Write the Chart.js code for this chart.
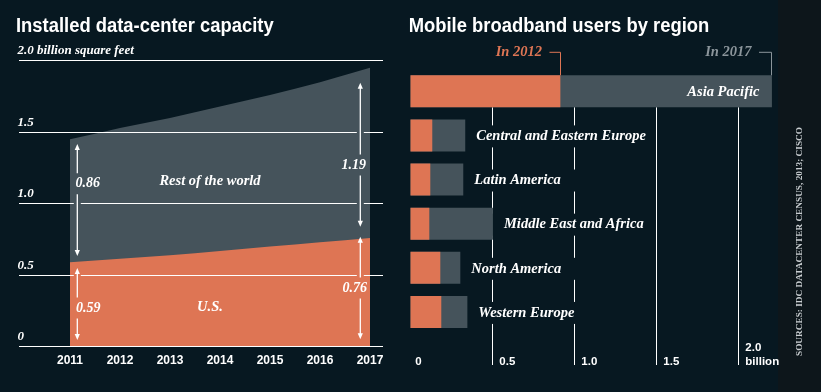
<!DOCTYPE html>
<html><head><meta charset="utf-8">
<script src="https://cdn.jsdelivr.net/npm/chart.js@4/dist/chart.umd.min.js"></script>
<style>
html,body{margin:0;padding:0;background:#071821;width:821px;height:392px;overflow:hidden;}
#strip{position:absolute;left:778px;top:0;width:43px;height:392px;background:#0d161b;}
#left{position:absolute;left:0;top:0;width:395px;height:392px;}
#right{position:absolute;left:395px;top:0;width:426px;height:392px;}
</style></head><body>
<div id="strip"></div>
<canvas id="left" width="395" height="392"></canvas>
<canvas id="right" width="426" height="392"></canvas>
<script>
// ---------- data ----------
const years = ['2011','2012','2013','2014','2015','2016','2017'];
const usCapacity = [0.59, 0.615, 0.64, 0.67, 0.70, 0.73, 0.76];
const restCapacity = [0.86, 0.915, 0.96, 1.01, 1.06, 1.12, 1.19];
const capacityTicks = [0, 0.5, 1.0, 1.5, 2.0];
const capacityTickLabels = ['0', '0.5', '1.0', '1.5', '2.0 billion square feet'];

const regions = ['Asia Pacific', 'Central and Eastern Europe', 'Latin America', 'Middle East and Africa', 'North America', 'Western Europe'];
const users2012 = [0.915, 0.134, 0.122, 0.116, 0.183, 0.189];
const users2017 = [2.205, 0.335, 0.323, 0.504, 0.305, 0.348];
const userTicks = [0, 0.5, 1.0, 1.5, 2.0];
const userTickLabels = [['0'], ['0.5'], ['1.0'], ['1.5'], ['2.0', 'billion']];

// ---------- style ----------
const ORANGE = '#de7554';
const GRAY = '#45535b';
const GRAY_TEXT = '#8b959b';
const WHITE = '#ffffff';
const SANS = '"Liberation Sans", Arial, sans-serif';
const SERIF = '"Liberation Serif", "Times New Roman", serif';

function drawTitle(ctx, text, x, y) {
  ctx.save();
  ctx.fillStyle = WHITE;
  ctx.font = 'bold 20px ' + SANS;
  ctx.textBaseline = 'alphabetic';
  ctx.textAlign = 'left';
  ctx.translate(x, y);
  ctx.scale(0.92, 1);
  ctx.fillText(text, 0, 0);
  ctx.restore();
}

function arrowHead(ctx, x, y, dir) {
  ctx.beginPath();
  ctx.moveTo(x, y);
  ctx.lineTo(x - 2.6, y - dir * 6);
  ctx.lineTo(x + 2.6, y - dir * 6);
  ctx.closePath();
  ctx.fill();
}

// ---------- left chart ----------
const leftPlugin = {
  id: 'leftDecor',
  afterDraw(chart) {
    const {ctx, scales: {x, y}} = chart;
    const totals = usCapacity.map((v, i) => v + restCapacity[i]);
    const last = years.length - 1;
    // arrows: style description (pixel offsets), values from data
    const arrows = [
      {i: 0, dx: 7.3, topV: totals[0], botV: usCapacity[0], inTop: 4.7, inBot: 6.3, label: restCapacity[0], at: 1.14, align: 'left', tdx: -1.8},
      {i: 0, dx: 7.3, topV: usCapacity[0], botV: 0, inTop: 5.7, inBot: 6.7, label: usCapacity[0], at: 0.27, align: 'left', tdx: -1.3},
      {i: last, dx: -9.7, topV: totals[last], botV: usCapacity[last], inTop: 15, inBot: 11.3, label: restCapacity[last], at: 1.27, align: 'right', tdx: 5.8},
      {i: last, dx: -9.7, topV: usCapacity[last], botV: 0, inTop: -1.3, inBot: 7.4, label: usCapacity[last], at: 0.41, align: 'right', tdx: 6.8}
    ];
    arrows.forEach(a => {
      a.px = x.getPixelForValue(a.i) + a.dx;
      a.y0 = y.getPixelForValue(a.topV) + a.inTop;
      a.y1 = y.getPixelForValue(a.botV) - a.inBot;
      a.ty = y.getPixelForValue(a.at);
    });

    // gridlines with gaps around arrows
    ctx.save();
    ctx.strokeStyle = WHITE;
    ctx.lineWidth = 1;
    const gx0 = 19, gx1 = 383;
    capacityTicks.forEach((v, k) => {
      const yy = Math.floor(y.getPixelForValue(v)) + 0.5;
      const gaps = arrows.filter(a => yy > a.y0 && yy < a.y1).map(a => [a.px - 3.5, a.px + 3.5]).sort((p, q) => p[0] - q[0]);
      let cur = gx0;
      ctx.beginPath();
      gaps.forEach(g => { ctx.moveTo(cur, yy); ctx.lineTo(g[0], yy); cur = g[1]; });
      ctx.moveTo(cur, yy); ctx.lineTo(gx1, yy);
      ctx.stroke();
      // tick label above line
      ctx.fillStyle = WHITE;
      ctx.font = 'italic bold 13px ' + SERIF;
      ctx.textAlign = 'left';
      ctx.textBaseline = 'alphabetic';
      ctx.fillText(capacityTickLabels[k], 17.5, yy - 6.5);
    });
    ctx.restore();

    // arrows + value labels
    ctx.save();
    ctx.strokeStyle = WHITE;
    ctx.fillStyle = WHITE;
    ctx.lineWidth = 1.3;
    arrows.forEach(a => {
      const gap = 10.5;
      ctx.beginPath();
      ctx.moveTo(a.px, a.y0 + 5); ctx.lineTo(a.px, a.ty - gap);
      ctx.moveTo(a.px, a.ty + gap); ctx.lineTo(a.px, a.y1 - 5);
      ctx.stroke();
      arrowHead(ctx, a.px, a.y0, -1);
      arrowHead(ctx, a.px, a.y1, 1);
      ctx.font = 'italic bold 14px ' + SERIF;
      ctx.textAlign = a.align;
      ctx.textBaseline = 'middle';
      ctx.fillText(a.label.toFixed(2), a.px + a.tdx, a.ty);
    });
    // band labels
    ctx.font = 'italic bold 14.5px ' + SERIF;
    ctx.textAlign = 'center';
    ctx.textBaseline = 'middle';
    ctx.fillText(chart.data.datasets[1].label, x.getPixelForValue(2.8), y.getPixelForValue(1.16));
    ctx.fillText(chart.data.datasets[0].label, x.getPixelForValue(2.8), y.getPixelForValue(0.277));
    // x tick labels
    ctx.font = 'bold 12px ' + SANS;
    years.forEach((yr, i) => ctx.fillText(yr, x.getPixelForValue(i), 360.5));
    ctx.restore();

    drawTitle(ctx, 'Installed data-center capacity', 16, 31.7);
  }
};

new Chart(document.getElementById('left'), {
  type: 'line',
  data: {
    labels: years,
    datasets: [
      {label: 'U.S.', data: usCapacity, backgroundColor: ORANGE, borderWidth: 0, pointRadius: 0, fill: 'origin', cubicInterpolationMode: 'monotone'},
      {label: 'Rest of the world', data: restCapacity, backgroundColor: GRAY, borderWidth: 0, pointRadius: 0, fill: 'origin', cubicInterpolationMode: 'monotone'}
    ]
  },
  options: {
    responsive: false,
    animation: false,
    layout: {padding: {left: 70, right: 25, top: 60.7, bottom: 45.3}},
    plugins: {legend: {display: false}, tooltip: {enabled: false}, title: {display: false}},
    scales: {
      x: {display: false, offset: false},
      y: {display: false, stacked: true, min: 0, max: 2}
    }
  },
  plugins: [leftPlugin]
});

// ---------- right chart ----------
const rightPlugin = {
  id: 'rightDecor',
  beforeDatasetsDraw(chart) {
    const {ctx, scales: {x, y}} = chart;
    const m = chart.getDatasetMeta(1).data[0];
    const top = m.y + m.height / 2;
    const bottom = 365;
    const gapTicks = [0.5, 1.0];
    ctx.save();
    ctx.strokeStyle = WHITE;
    ctx.lineWidth = 1;
    userTicks.forEach(v => {
      if (v === 0) return;
      const xx = Math.floor(x.getPixelForValue(v)) + 0.5;
      const gaps = gapTicks.includes(v) ? regions.slice(1).map((r, j) => {
        const c = y.getPixelForValue(j + 1) + 1;
        return [c - 11, c + 11];
      }) : [];
      let cur = top;
      ctx.beginPath();
      gaps.forEach(g => { ctx.moveTo(xx, cur); ctx.lineTo(xx, g[0]); cur = g[1]; });
      ctx.moveTo(xx, cur); ctx.lineTo(xx, bottom);
      ctx.stroke();
    });
    ctx.restore();
  },
  afterDatasetsDraw(chart) {
    const {ctx, scales: {x, y}} = chart;
    ctx.save();
    // region labels
    ctx.fillStyle = WHITE;
    ctx.font = 'italic bold 14.5px ' + SERIF;
    ctx.textBaseline = 'middle';
    regions.forEach((r, i) => {
      const end = x.getPixelForValue(users2017[i]);
      const cy = y.getPixelForValue(i) + 1;
      if (i === 0) { ctx.textAlign = 'right'; ctx.fillText(r, end - 12.5, cy); }
      else { ctx.textAlign = 'left'; ctx.fillText(r, end + 11, cy); }
    });
    // year brackets
    const bar = chart.getDatasetMeta(0).data[0];
    const barTop = bar.y - bar.height / 2;
    const by = 52.3;
    [[users2012[0], chart.data.datasets[0].label, ORANGE, 11], [users2017[0], chart.data.datasets[1].label, GRAY_TEXT, 12.5]].forEach(([v, lab, col, w]) => {
      const ex = Math.floor(x.getPixelForValue(v)) + 0.5;
      ctx.strokeStyle = col;
      ctx.fillStyle = col;
      ctx.lineWidth = 1;
      ctx.beginPath();
      ctx.moveTo(ex - w, by); ctx.lineTo(ex, by); ctx.lineTo(ex, barTop);
      ctx.stroke();
      ctx.font = 'italic bold 14.5px ' + SERIF;
      ctx.textAlign = 'right';
      ctx.textBaseline = 'middle';
      ctx.fillText('In ' + lab, ex - w - 7.5, by);
    });
    // tick labels
    ctx.fillStyle = WHITE;
    ctx.font = 'bold 11.5px ' + SANS;
    ctx.textAlign = 'left';
    ctx.textBaseline = 'middle';
    userTicks.forEach((v, k) => {
      const xx = x.getPixelForValue(v) + (v === 0 ? 5 : 7);
      const lines = userTickLabels[k];
      lines.forEach((t, j) => ctx.fillText(t, xx, 361.5 - (lines.length - 1 - j) * 14));
    });
    // sources (rotated)
    ctx.save();
    ctx.translate(405, 241.5);
    ctx.rotate(-Math.PI / 2);
    ctx.fillStyle = '#c9ced1';
    ctx.font = 'bold 9px ' + SERIF;
    const src = 'SOURCES: IDC DATACENTER CENSUS, 2013; CISCO';
    const w = ctx.measureText(src).width;
    ctx.scale(229 / w, 1);
    ctx.textAlign = 'center';
    ctx.textBaseline = 'middle';
    ctx.fillText(src, 0, 0);
    ctx.restore();
    ctx.restore();

    drawTitle(ctx, 'Mobile broadband users by region', 13.7, 31.7);
  }
};

new Chart(document.getElementById('right'), {
  type: 'bar',
  data: {
    labels: regions,
    datasets: [
      {label: '2012', data: users2012, backgroundColor: ORANGE, borderWidth: 0, grouped: false, barPercentage: 0.725, categoryPercentage: 1},
      {label: '2017', data: users2017, backgroundColor: GRAY, borderWidth: 0, grouped: false, barPercentage: 0.725, categoryPercentage: 1}
    ]
  },
  options: {
    indexAxis: 'y',
    responsive: false,
    animation: false,
    layout: {padding: {left: 15.3, right: 41.7, top: 69.2, bottom: 58}},
    plugins: {legend: {display: false}, tooltip: {enabled: false}, title: {display: false}},
    scales: {
      x: {display: false, min: 0, max: 2.25},
      y: {display: false}
    }
  },
  plugins: [rightPlugin]
});
</script>
</body></html>
